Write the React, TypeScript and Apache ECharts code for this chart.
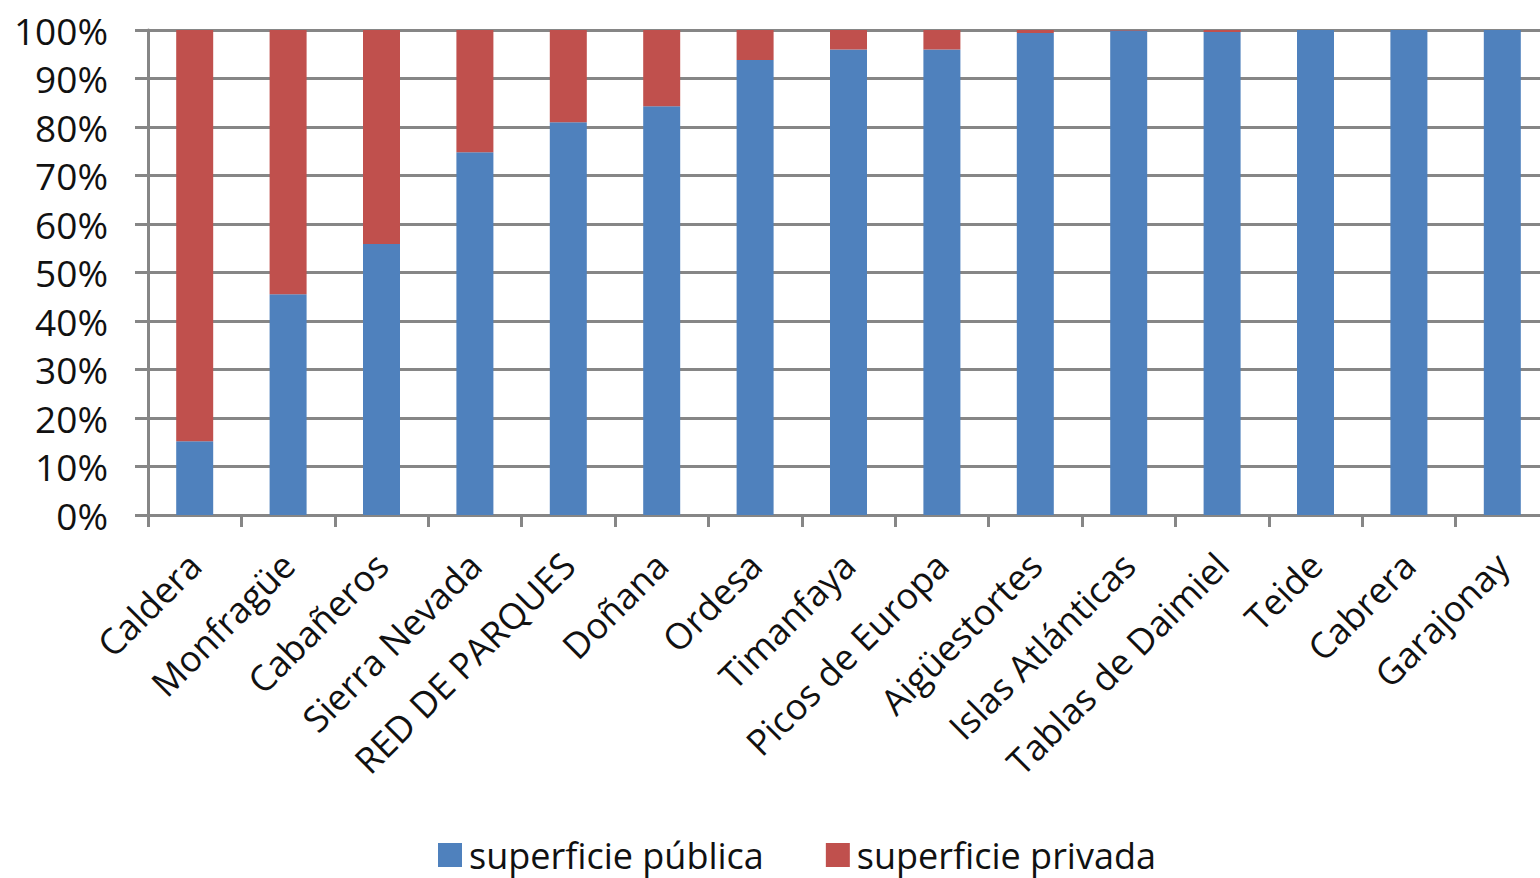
import React, { useEffect, useRef } from "react";
import * as echarts from "echarts";

const categories = [
  "Caldera", "Monfragüe", "Cabañeros", "Sierra Nevada", "RED DE PARQUES", "Doñana",
  "Ordesa", "Timanfaya", "Picos de Europa", "Aigüestortes", "Islas Atlánticas",
  "Tablas de Daimiel", "Teide", "Cabrera", "Garajonay",
];
const publica = [15.2, 45.5, 55.9, 74.8, 81, 84.3, 93.8, 96, 96, 99.4, 99.9, 99.6, 100, 100, 100];
const privada = publica.map((v) => +(100 - v).toFixed(1));
const yTicks = [0, 10, 20, 30, 40, 50, 60, 70, 80, 90, 100];

const FONT = "'Open Sans', 'Liberation Sans', sans-serif";

export default function App() {
  const ref = useRef<HTMLDivElement>(null);
  useEffect(() => {
    const chart = echarts.init(ref.current!, null, { renderer: "svg" });
    chart.setOption({
      animation: false,
      grid: { left: 148, right: 0, top: 30, bottom: 363, containLabel: false },
      legend: {
        bottom: 0,
        left: 433,
        itemWidth: 24,
        itemHeight: 24,
        itemGap: 62,
        icon: "rect",
        textStyle: { fontFamily: FONT, fontSize: 36, color: "#111", padding: [0, 0, 0, 2] },
        data: ["superficie pública", "superficie privada"],
      },
      xAxis: {
        type: "category",
        data: categories,
        axisLine: { lineStyle: { color: "#868686", width: 3 } },
        axisTick: { show: true, length: 12, lineStyle: { color: "#868686", width: 3 } },
        axisLabel: {
          rotate: 45,
          interval: 0,
          margin: 44,
          fontFamily: FONT,
          fontSize: 36,
          color: "#111",
        },
      },
      yAxis: {
        type: "value",
        min: 0,
        max: 100,
        interval: 10,
        axisLine: { show: true, lineStyle: { color: "#868686", width: 3 } },
        axisTick: { show: true, length: 13, lineStyle: { color: "#868686", width: 3 } },
        splitLine: { show: true, lineStyle: { color: "#868686", width: 3 } },
        axisLabel: {
          margin: 40,
          fontFamily: FONT,
          fontSize: 37,
          color: "#111",
          formatter: (v: number) => (yTicks.includes(v) ? v + "%" : ""),
        },
      },
      series: [
        {
          name: "superficie pública",
          type: "bar",
          stack: "s",
          barWidth: 37,
          data: publica,
          itemStyle: { color: "#4F81BD" },
        },
        {
          name: "superficie privada",
          type: "bar",
          stack: "s",
          barWidth: 37,
          data: privada,
          itemStyle: { color: "#C0504D" },
        },
      ],
    });
    return () => chart.dispose();
  }, []);
  return (
    <div
      style={{ position: "absolute", left: 0, top: 0, width: 1540, height: 878, overflow: "hidden", background: "#fff" }}
    >
      <div ref={ref} style={{ width: 1549, height: 878 }} />
    </div>
  );
}
